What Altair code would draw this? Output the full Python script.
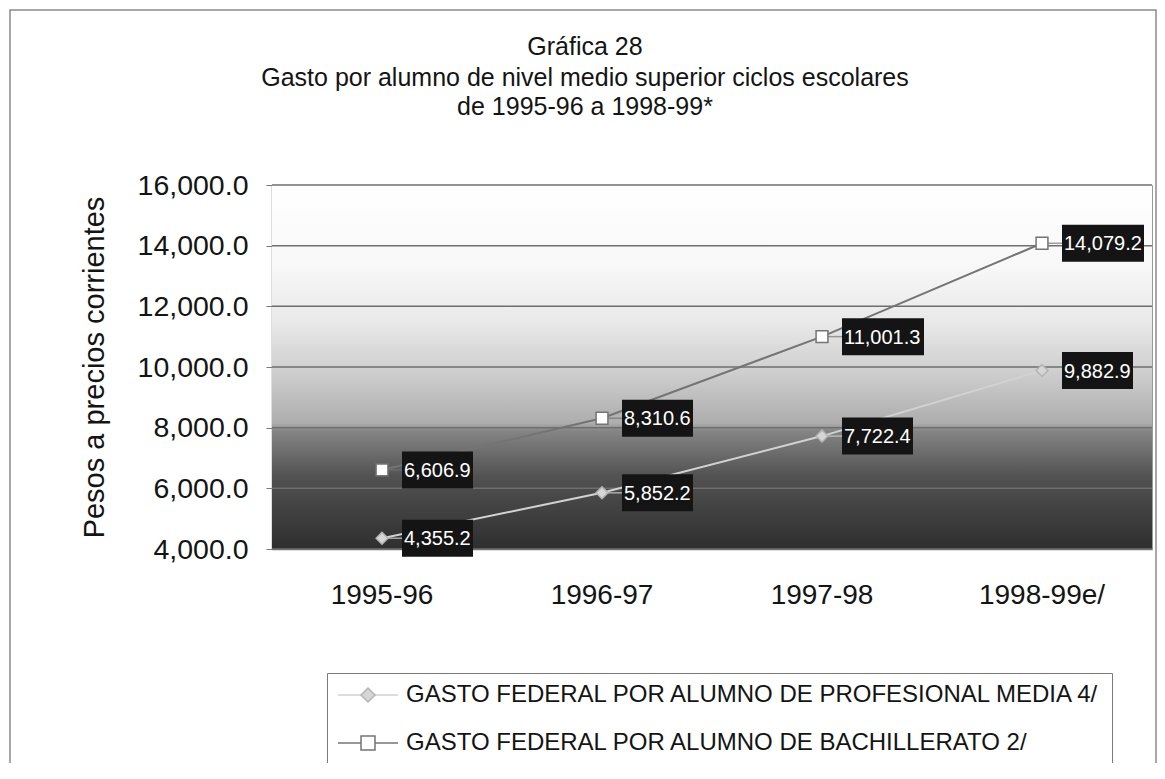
import altair as alt
import pandas as pd

title_lines = [
    "Gráfica 28",
    "Gasto por alumno de nivel medio superior ciclos escolares",
    "de 1995-96 a 1998-99*",
]
categories = ["1995-96", "1996-97", "1997-98", "1998-99e/"]
profesional = [4355.2, 5852.2, 7722.4, 9882.9]
bachillerato = [6606.9, 8310.6, 11001.3, 14079.2]
series_names = [
    "GASTO FEDERAL POR ALUMNO DE PROFESIONAL MEDIA 4/",
    "GASTO FEDERAL POR ALUMNO DE BACHILLERATO 2/",
]
y_ticks = [4000, 6000, 8000, 10000, 12000, 14000, 16000]

rows = []
for name, vals in zip(series_names, [profesional, bachillerato]):
    for c, v in zip(categories, vals):
        rows.append({"ciclo": c, "serie": name, "valor": v, "label": f"{v:,.1f}"})
df = pd.DataFrame(rows)
# marker legend uses its own domain (trailing space) so that it is not merged with the line legend
df["serie_m"] = df["serie"] + " "
df["nch"] = df["label"].str.len()
grid_df = pd.DataFrame({"v": y_ticks})
one = pd.DataFrame({"a": [0]})

W, H = 880, 364
FONT = "'Liberation Sans', Arial, sans-serif"
TXT = "#141414"

xenc = alt.X("ciclo:N", sort=categories, title=None,
             scale=alt.Scale(type="band", paddingInner=0, paddingOuter=0),
             axis=alt.Axis(labelAngle=0, labelFontSize=28, labelFont=FONT, labelColor=TXT,
                           ticks=False, labelPadding=32, domainColor="#777", domainWidth=1.5))
yenc = alt.Y("valor:Q", title="Pesos a precios corrientes",
             scale=alt.Scale(domain=[4000, 16000], nice=False, zero=False),
             axis=alt.Axis(values=y_ticks, format=",.1f", grid=False, labelFontSize=28.5,
                           labelFont=FONT, labelColor=TXT, tickSize=6, tickColor="#777",
                           domainColor="#777", domainWidth=1.5, labelPadding=18,
                           titleFontSize=29, titleFont=FONT, titleColor=TXT,
                           titleFontWeight="normal", titlePadding=28))

sdom = series_names
mdom = [s + " " for s in series_names]
line_scale = alt.Scale(domain=sdom, range=["#d2d2d2", "#747474"])
mstroke_scale = alt.Scale(domain=mdom, range=["#b4b4b4", "#747474"])
fill_scale = alt.Scale(domain=mdom, range=["#d6d6d6", "#ffffff"])
shape_scale = alt.Scale(domain=mdom, range=["diamond", "square"])

common_leg = dict(title=None, orient="none", legendX=55, legendY=488, direction="vertical",
                  labelFont=FONT, labelFontSize=24, labelLimit=1000, symbolSize=196,
                  padding=10, rowPadding=24, symbolOffset=19, labelOffset=26)
leg_line = alt.Legend(**common_leg, labelOpacity=0, symbolType="M-4.3,0H4.3",
                      symbolStrokeWidth=1.5, strokeColor="#7a7a7a", fillColor="#ffffff")
leg_mark = alt.Legend(**common_leg, labelColor=TXT, symbolStrokeWidth=1.5)

frame = alt.Chart(one).mark_rect(fillOpacity=0, stroke="#8a8a8a", strokeWidth=1.5).encode(
    x=alt.value(-262), x2=alt.value(884), y=alt.value(-175), y2=alt.value(700))

titles = [
    alt.Chart(pd.DataFrame({"t": [t]})).mark_text(
        font=FONT, fontSize=25, color=TXT, align="center", baseline="middle").encode(
        text="t:N", x=alt.value(313), y=alt.value(yy))
    for t, yy in zip(title_lines, [-138, -107, -78])
]

bg = alt.Chart(one).mark_rect(color={
    "gradient": "linear", "x1": 0, "x2": 0, "y1": 0, "y2": 1,
    "stops": [
        {"offset": 0.0, "color": "#ffffff"},
        {"offset": 0.22, "color": "#f8f8f8"},
        {"offset": 0.38, "color": "#e8e8e8"},
        {"offset": 0.52, "color": "#cdcdcd"},
        {"offset": 0.655, "color": "#adadad"},
        {"offset": 0.675, "color": "#858585"},
        {"offset": 0.8, "color": "#525252"},
        {"offset": 1.0, "color": "#2e2e2e"},
    ]}).encode(x=alt.value(0), x2=alt.value(W), y=alt.value(0), y2=alt.value(H))

grid = alt.Chart(grid_df).mark_rule(color="#6e6e6e", strokeWidth=1.5).encode(
    y=alt.Y("v:Q", scale=alt.Scale(domain=[4000, 16000], nice=False, zero=False)))

base = alt.Chart(df)
lines = base.mark_line(strokeWidth=2).encode(
    x=xenc, y=yenc,
    color=alt.Color("serie:N", scale=line_scale, legend=leg_line))
leaders = base.mark_tick(size=20, thickness=1.5, xOffset=10).encode(
    x=alt.X("ciclo:N", sort=categories), y="valor:Q",
    color=alt.Color("serie:N", scale=line_scale, legend=None))
points = base.mark_point(filled=True, size=140, strokeWidth=1.5, opacity=1).encode(
    x=alt.X("ciclo:N", sort=categories), y="valor:Q",
    shape=alt.Shape("serie_m:N", scale=shape_scale, legend=leg_mark),
    fill=alt.Fill("serie_m:N", scale=fill_scale, legend=leg_mark),
    stroke=alt.Stroke("serie_m:N", scale=mstroke_scale, legend=leg_mark))

boxes = []
for n, bw in [(7, 71), (8, 82)]:
    boxes.append(base.transform_filter(f"datum.nch == {n}").mark_rect(
        color="#141414", width=bw, height=37, xOffset=20 + bw / 2).encode(
        x=alt.X("ciclo:N", sort=categories), y="valor:Q"))
texts = base.mark_text(align="left", baseline="middle", dx=22, dy=1, font=FONT,
                       fontSize=20, color="#ffffff").encode(
    x=alt.X("ciclo:N", sort=categories), y="valor:Q", text="label:N")

chart = alt.layer(frame, *titles, bg, grid, lines, leaders, points, *boxes, texts).properties(
    width=W, height=H,
    autosize=alt.AutoSizeParams(type="none"),
    padding={"left": 264, "top": 177, "right": 5, "bottom": 214},
).configure_view(stroke="#9a9a9a", strokeWidth=1)

chart.save("out.html", embed_options={"renderer": "svg", "actions": False})
